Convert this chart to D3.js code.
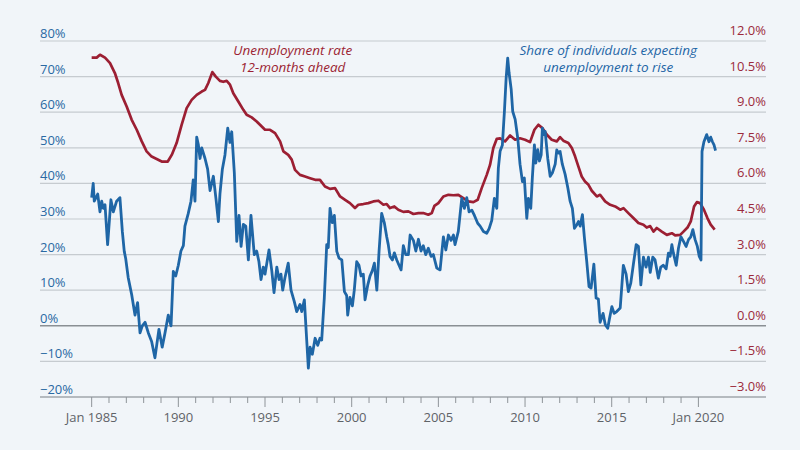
<!DOCTYPE html>
<html>
<head>
<meta charset="utf-8">
<script src="https://cdnjs.cloudflare.com/ajax/libs/d3/7.8.5/d3.min.js"></script>
<style>
  html, body { margin: 0; padding: 0; background: #f1f5f9; }
  svg { display: block; font-family: "Open Sans", sans-serif; }
</style>
</head>
<body>
<div id="chart"></div>
<script>
// [decimal year, share expecting unemployment to rise (%)]
const shareRise = [
  [1985.00,36],[1985.09,40],[1985.15,35],[1985.35,37],[1985.48,32],[1985.58,35],[1985.67,33],[1985.77,34],
  [1985.92,22.8],[1986.11,35.4],[1986.25,32],[1986.44,35],[1986.63,36],[1986.77,26.5],[1986.88,20.9],[1986.96,19],
  [1987.11,13.5],[1987.31,8.7],[1987.50,3],[1987.65,6.5],[1987.79,-2],[1987.92,0],[1988.08,1],[1988.27,-2],
  [1988.46,-4.4],[1988.65,-9],[1988.88,-1],[1989.07,-6],[1989.23,-2],[1989.42,3],[1989.58,0],[1989.71,15.3],
  [1989.85,14],[1990.00,17],[1990.15,21],[1990.29,22.5],[1990.38,28],[1990.57,31.5],[1990.73,35],[1990.86,41],
  [1990.96,35],[1991.06,53],[1991.15,51],[1991.25,47],[1991.35,50],[1991.54,47],[1991.69,44],[1991.83,38],
  [1992.02,42],[1992.17,35.7],[1992.31,29.3],[1992.40,37],[1992.54,44],[1992.69,48],[1992.85,55.5],[1992.98,51.5],
  [1993.08,54.5],[1993.23,43],[1993.37,23.7],[1993.50,31],[1993.62,22.3],[1993.75,28.5],[1993.89,28],[1994.04,18.5],
  [1994.19,31],[1994.38,20],[1994.52,21],[1994.65,18],[1994.77,13],[1994.90,16.5],[1995.00,14.5],[1995.23,21.3],
  [1995.39,15.5],[1995.52,9.3],[1995.68,16.5],[1995.81,13],[1995.92,14.5],[1996.02,10],[1996.15,13.5],[1996.34,17.6],
  [1996.50,10],[1996.69,6.8],[1996.83,4],[1997.02,6],[1997.12,4],[1997.27,7.3],[1997.41,-4.4],[1997.50,-11.9],
  [1997.60,-6],[1997.73,-8],[1997.89,-3.5],[1998.04,-5.5],[1998.17,-3.5],[1998.27,-4],[1998.42,7.8],[1998.56,22.8],
  [1998.65,22],[1998.75,33],[1998.88,29],[1999.00,31],[1999.14,20.9],[1999.27,19],[1999.43,18.5],[1999.58,9.6],
  [1999.71,8.5],[1999.77,3],[1999.90,8],[2000.04,5.6],[2000.15,10],[2000.29,18],[2000.42,17],[2000.54,14],
  [2000.67,14.5],[2000.77,7.3],[2000.93,11.5],[2001.06,14],[2001.19,15.5],[2001.31,17.6],[2001.45,10],[2001.58,21],
  [2001.73,31.6],[2001.88,29],[2002.02,25],[2002.11,22.8],[2002.21,19.5],[2002.35,18.5],[2002.46,20.5],[2002.60,18.5],
  [2002.73,17],[2002.85,15.7],[2002.98,22.5],[2003.12,20],[2003.27,20],[2003.37,25.5],[2003.56,24],[2003.70,21],
  [2003.85,24.3],[2004.00,21],[2004.13,22.5],[2004.27,20],[2004.42,21.8],[2004.58,19.5],[2004.71,20],[2004.91,16.2],
  [2005.10,15.7],[2005.29,25],[2005.43,21.3],[2005.58,25.5],[2005.73,24],[2005.87,25.5],[2005.96,22.8],[2006.15,26.5],
  [2006.35,35.8],[2006.50,33],[2006.64,36],[2006.77,32],[2006.93,32.5],[2007.08,31],[2007.27,28.8],[2007.41,28],
  [2007.60,26.5],[2007.79,26],[2007.93,27.3],[2008.08,29.6],[2008.23,35.8],[2008.37,33],[2008.46,44.3],[2008.56,49],
  [2008.69,50.7],[2008.81,60.2],[2008.91,69.6],[2009.00,75.2],[2009.08,71],[2009.20,66.5],[2009.29,60.2],[2009.43,58],
  [2009.58,52.7],[2009.71,45.4],[2009.85,40.5],[2009.96,41.5],[2010.10,30.2],[2010.19,35.8],[2010.33,33],[2010.42,41.5],
  [2010.54,50.8],[2010.62,45.7],[2010.73,49.5],[2010.83,46.3],[2010.93,48],[2011.00,55.5],[2011.10,53.7],[2011.16,54.6],
  [2011.31,47],[2011.45,42],[2011.58,43],[2011.74,45.4],[2011.83,49.4],[2011.93,48.5],[2012.02,49],[2012.15,45.4],
  [2012.31,42.6],[2012.47,38.7],[2012.60,35],[2012.73,33],[2012.85,27.4],[2012.99,28.4],[2013.08,29.3],[2013.18,28],
  [2013.31,31.2],[2013.42,25],[2013.56,18],[2013.69,11],[2013.81,10.6],[2013.97,17.3],[2014.10,7.8],[2014.23,7.5],
  [2014.33,1],[2014.50,3.5],[2014.63,0.3],[2014.77,-0.7],[2014.87,2],[2015.01,5.4],[2015.14,3.5],[2015.29,4],
  [2015.49,5],[2015.67,17],[2015.83,14.5],[2015.96,9.6],[2016.10,12],[2016.25,17.3],[2016.41,22.8],[2016.54,22.3],
  [2016.68,11.5],[2016.83,19.3],[2016.98,16.5],[2017.12,19.3],[2017.22,15],[2017.37,19.3],[2017.50,18.5],[2017.69,13.4],
  [2017.83,16.5],[2017.98,17],[2018.14,16],[2018.27,20.4],[2018.37,19.5],[2018.47,22.8],[2018.56,20.4],[2018.72,17],
  [2018.85,21.8],[2018.99,25],[2019.14,23.7],[2019.29,22.3],[2019.43,24.2],[2019.56,25],[2019.68,27],[2019.81,24.2],
  [2019.94,22.3],[2020.05,19.5],[2020.15,18.5],[2020.21,49],[2020.32,51.7],[2020.48,53.7],[2020.61,51.7],[2020.71,53],
  [2020.81,51.7],[2020.90,50.8],[2020.99,49.2]
];

// [decimal year, unemployment rate 12 months ahead (%)]
const unempAhead = [
  [1985.00,11.3],[1985.29,11.3],[1985.48,11.42],[1985.77,11.3],[1986.06,11.07],[1986.34,10.65],[1986.53,10.23],
  [1986.73,9.73],[1987.02,9.24],[1987.31,8.68],[1987.60,8.26],[1987.89,7.77],[1988.17,7.35],[1988.46,7.13],
  [1988.75,7.03],[1989.04,6.92],[1989.39,6.92],[1989.62,7.2],[1989.90,7.7],[1990.19,8.47],[1990.48,9.17],
  [1990.77,9.52],[1991.06,9.73],[1991.35,9.87],[1991.54,9.94],[1991.73,10.23],[1991.96,10.69],[1992.16,10.5],
  [1992.40,10.32],[1992.59,10.28],[1992.79,10.32],[1992.98,10.16],[1993.17,9.8],[1993.46,9.45],[1993.75,9.1],
  [1993.94,8.89],[1994.23,8.78],[1994.52,8.61],[1994.71,8.47],[1995.00,8.26],[1995.29,8.26],[1995.58,8.12],
  [1995.87,7.77],[1996.06,7.35],[1996.34,7.2],[1996.54,7.0],[1996.73,6.57],[1997.02,6.36],[1997.31,6.29],
  [1997.60,6.22],[1997.89,6.15],[1998.17,6.15],[1998.46,5.87],[1998.75,5.77],[1999.04,5.8],[1999.33,5.45],
  [1999.62,5.31],[1999.90,5.17],[2000.19,4.96],[2000.38,5.1],[2000.67,5.13],[2000.96,5.17],[2001.25,5.24],
  [2001.54,5.27],[2001.83,5.1],[2002.02,5.13],[2002.21,4.96],[2002.46,5.03],[2002.69,4.89],[2002.98,4.8],
  [2003.27,4.82],[2003.56,4.71],[2003.85,4.75],[2004.13,4.75],[2004.42,4.68],[2004.62,4.75],[2004.77,5.05],
  [2005.00,5.17],[2005.29,5.45],[2005.58,5.52],[2005.87,5.5],[2006.15,5.52],[2006.44,5.38],[2006.73,5.24],
  [2007.02,5.21],[2007.27,5.31],[2007.50,5.8],[2007.79,6.36],[2007.98,6.78],[2008.17,7.49],[2008.37,7.88],
  [2008.56,7.9],[2008.85,7.77],[2009.14,8.02],[2009.43,7.84],[2009.71,7.9],[2010.00,7.84],[2010.29,7.74],
  [2010.54,8.26],[2010.77,8.47],[2011.00,8.33],[2011.26,8.05],[2011.54,7.84],[2011.83,7.77],[2012.02,7.95],
  [2012.21,7.8],[2012.50,7.7],[2012.70,7.49],[2012.89,7.13],[2013.08,6.71],[2013.27,6.29],[2013.46,6.08],
  [2013.66,5.94],[2013.85,5.69],[2014.14,5.45],[2014.33,5.52],[2014.62,5.24],[2014.91,5.1],[2015.20,5.03],
  [2015.49,4.89],[2015.68,4.96],[2015.96,4.75],[2016.25,4.54],[2016.54,4.33],[2016.83,4.26],[2017.02,4.14],
  [2017.22,4.2],[2017.41,3.97],[2017.60,4.12],[2017.89,3.97],[2018.18,3.83],[2018.47,3.9],[2018.66,3.81],
  [2018.95,3.83],[2019.14,3.97],[2019.37,4.14],[2019.56,4.4],[2019.75,5.03],[2019.91,5.21],[2020.10,5.17],
  [2020.32,4.89],[2020.52,4.54],[2020.71,4.26],[2020.94,4.05]
];

const leftTicks = [-20, -10, 0, 10, 20, 30, 40, 50, 60, 70, 80];
const rightTicks = [-3, -1.5, 0, 1.5, 3, 4.5, 6, 7.5, 9, 10.5, 12];
const yearTicks = d3.range(1985, 2021);
const yearLabels = [1985, 1990, 1995, 2000, 2005, 2010, 2015, 2020];

const W = 800, H = 450;
const margin = { top: 41, right: 34, bottom: 53, left: 40 };
const width = W - margin.left - margin.right;
const height = H - margin.top - margin.bottom;

const blue = "#1f66a6", red = "#9c1f33";

const svg = d3.select("#chart").append("svg")
  .attr("width", W)
  .attr("height", H);

svg.append("rect").attr("width", W).attr("height", H).attr("fill", "#f1f5f9");

const g = svg.append("g").attr("transform", `translate(${margin.left},${margin.top})`);

const x = d3.scaleLinear().domain([1982.02, 2023.9]).range([0, width]);
const yL = d3.scaleLinear().domain([-20, 80]).range([height, 0]);
const yR = d3.scaleLinear().domain([-3, 12]).range([height, 0]);

// gridlines
g.selectAll(".grid")
  .data(leftTicks)
  .enter().append("line")
  .attr("x1", 0).attr("x2", width)
  .attr("y1", d => yL(d)).attr("y2", d => yL(d))
  .attr("stroke", d => d === 0 ? "#8a8f94" : "#c6cbd0")
  .attr("stroke-width", d => d === 0 ? 1.4 : 1.2);

const minus = v => (v < 0 ? "\u2212" : "") + Math.abs(v);

g.selectAll(".lab-l")
  .data(leftTicks)
  .enter().append("text")
  .attr("x", 0).attr("y", d => yL(d) - 3)
  .attr("fill", "#2a69a3")
  .attr("font-size", 13)
  .text(d => minus(d) + "%");

g.selectAll(".lab-r")
  .data(rightTicks)
  .enter().append("text")
  .attr("x", width).attr("y", d => yR(d) - 6)
  .attr("text-anchor", "end")
  .attr("fill", "#9c2a3b")
  .attr("font-size", 13)
  .text(d => (d < 0 ? "\u2212" : "") + Math.abs(d).toFixed(1) + "%");

// x axis
const xAxis = g.append("g").attr("transform", `translate(0,${height})`);
xAxis.append("line").attr("x1", 0).attr("x2", width).attr("stroke", "#8f9499").attr("stroke-width", 1.2);
xAxis.selectAll(".tick")
  .data(yearTicks)
  .enter().append("line")
  .attr("x1", d => x(d)).attr("x2", d => x(d))
  .attr("y1", 0).attr("y2", d => d % 5 === 0 ? 10 : 6)
  .attr("stroke", "#8f9499").attr("stroke-width", 1);
xAxis.selectAll(".xlab")
  .data(yearLabels)
  .enter().append("text")
  .attr("x", d => x(d)).attr("y", 25)
  .attr("text-anchor", "middle")
  .attr("fill", "#5f6368")
  .attr("font-size", 13)
  .text(d => (d === 1985 || d === 2020) ? "Jan " + d : d);

// lines
const lineR = d3.line().x(d => x(d[0])).y(d => yR(d[1]));
const lineL = d3.line().x(d => x(d[0])).y(d => yL(d[1]));

g.append("path").datum(unempAhead)
  .attr("d", lineR).attr("fill", "none")
  .attr("stroke", red).attr("stroke-width", 2.7).attr("stroke-linejoin", "round");

g.append("path").datum(shareRise)
  .attr("d", lineL).attr("fill", "none")
  .attr("stroke", blue).attr("stroke-width", 2.8).attr("stroke-linejoin", "round");

// annotations
const note1 = g.append("text").attr("text-anchor", "middle").attr("font-style", "italic")
  .attr("font-size", 13.5).attr("fill", "#9c1f33");
note1.append("tspan").attr("x", x(1996.6)).attr("y", 55 - margin.top).text("Unemployment rate");
note1.append("tspan").attr("x", x(1996.6)).attr("y", 72 - margin.top).text("12-months ahead");

const note2 = g.append("text").attr("text-anchor", "middle").attr("font-style", "italic")
  .attr("font-size", 13.5).attr("fill", "#1f66a6");
note2.append("tspan").attr("x", x(2014.8)).attr("y", 55 - margin.top).text("Share of individuals expecting");
note2.append("tspan").attr("x", x(2014.8)).attr("y", 72 - margin.top).text("unemployment to rise");
</script>
</body>
</html>
